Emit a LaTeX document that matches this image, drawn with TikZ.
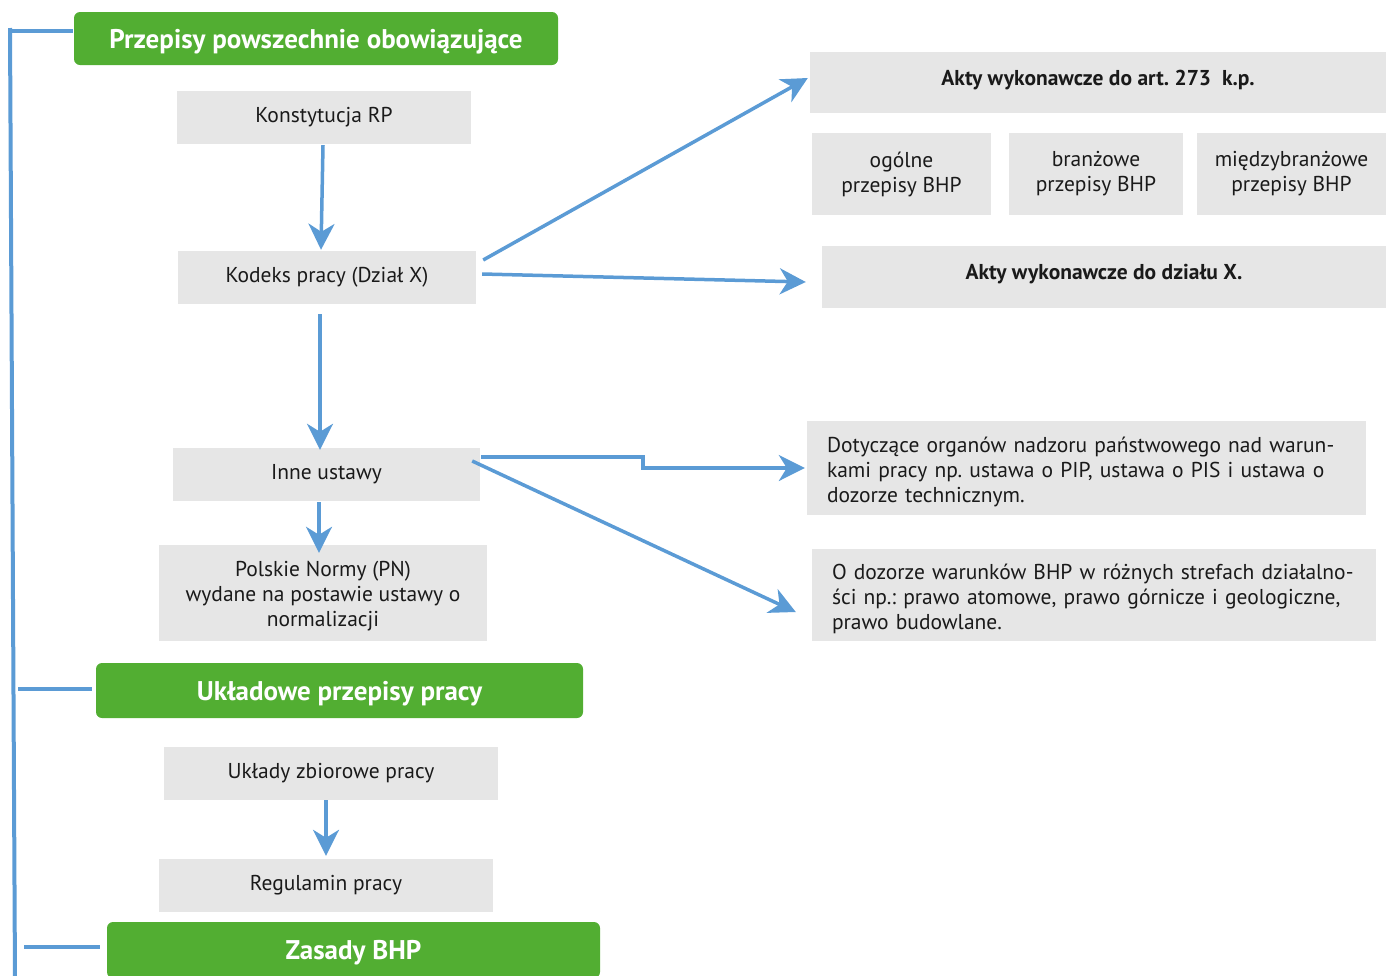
\documentclass[tikz,border=0pt]{standalone}
\usepackage{fontspec}
\setmainfont{PT Sans}
\usetikzlibrary{calc,arrows.meta}
\definecolor{lblue}{HTML}{5B9BD5}
\definecolor{bgreen}{HTML}{52AE32}
\definecolor{lgray}{HTML}{E6E6E6}
\definecolor{txt}{HTML}{1A1A1A}
\newcommand{\pushdown}[1]{\rule{0pt}{#1}}
\frenchspacing
\tikzset{
  gbox/.style={fill=lgray,draw=none,inner sep=0pt,text=txt,align=center,font=\fontsize{21.5}{25}\selectfont\frenchspacing},
  green/.style={fill=bgreen,draw=none,rounded corners=6pt,inner sep=0pt,text=white,text depth=0pt,font=\fontsize{27}{30}\selectfont\bfseries},
  arr/.style={draw=lblue,line width=3.5pt,-{Stealth[length=26pt,width=26pt,inset=8pt]}},
  brk/.style={draw=lblue,line width=4pt},
}
\begin{document}
\begin{tikzpicture}[x=1pt,y=-1pt]
\useasboundingbox (0,0) rectangle (1386,975);
\clip (0,0) rectangle (1386,975);
% green headers
\node[green,minimum width=484pt,minimum height=53pt] (g1) at (316,38.5) {Przepisy powszechnie obowiązujące};
\node[green,minimum width=487pt,minimum height=55pt] (g2) at (339.5,690.5) {Układowe przepisy pracy};
\node[green,minimum width=493pt,minimum height=56pt] (g3) at (353.5,950) {Zasady BHP};
% left column
\node[gbox,minimum width=294pt,minimum height=53pt] (konst) at (324,117.5) {Konstytucja RP};
\node[gbox,minimum width=298pt,minimum height=53pt] (kod) at (327,277.5) {Kodeks pracy (Dział X)};
\node[gbox,minimum width=307pt,minimum height=53pt] (inne) at (326.5,474.5) {Inne ustawy};
\node[gbox,minimum width=328pt,minimum height=96pt] (pn) at (323,593) {\pushdown{22pt}Polskie Normy (PN)\\wydane na postawie ustawy o\\normalizacji};
\node[gbox,minimum width=334pt,minimum height=53pt] (ukl) at (331,773.5) {Układy zbiorowe pracy};
\node[gbox,minimum width=334pt,minimum height=53pt] (reg) at (326,885.5) {Regulamin pracy};
% right column
\node[gbox,minimum width=576pt,minimum height=61pt,text depth=10pt,font=\fontsize{21.5}{25}\selectfont\bfseries\frenchspacing] (a273) at (1098,82.5) {Akty wykonawcze do art. 273\ \ k.p.};
\node[gbox,minimum width=179pt,minimum height=82pt] (og) at (901.5,174) {ogólne\\przepisy BHP};
\node[gbox,minimum width=174pt,minimum height=82pt] (br) at (1096,174) {branżowe\\przepisy BHP};
\node[gbox,minimum width=189pt,minimum height=82pt] (mb) at (1291.5,174) {międzybranżowe\\przepisy BHP};
\node[gbox,minimum width=564pt,minimum height=62pt,text depth=10pt,font=\fontsize{21.5}{25}\selectfont\bfseries\frenchspacing] (ax) at (1104,277) {Akty wykonawcze do działu X.};
\node[gbox,minimum width=559pt,minimum height=94pt,align=left,text width=519pt] (dot) at (1086.5,468) {\pushdown{24pt}Dotyczące organów nadzoru państwowego nad warun-\\kami pracy np. ustawa o PIP, ustawa o PIS i ustawa o\\dozorze technicznym.};
\node[gbox,minimum width=564pt,minimum height=92pt,align=left,text width=524pt] (odz) at (1094,595) {\pushdown{24pt}O dozorze warunków BHP w różnych strefach działalno-\\ści np.: prawo atomowe, prawo górnicze i geologiczne,\\prawo budowlane.};
% arrows
\draw[arr] ($(konst.south)+(-1,1)$) -- ($(kod.north)+(-6,-1)$);
\draw[arr] ($(kod.east)+(7,-17.5)$) -- ($(a273.west)+(-2,-4.5)$);
\draw[arr] ($(kod.east)+(6,-3.5)$) -- ($(ax.west)+(-16,5)$);
\draw[arr] ($(kod.south)+(-7,10)$) -- ($(inne.north)+(-6.5,2)$);
\draw[arr] ($(inne.south)+(-7.5,1)$) -- ($(pn.north)+(-4,8)$);
\draw[arr] ($(inne.east)+(1,-17.5)$) -- ++(162,0) -- ++(0,11) -- ($(dot.west)+(-2,0)$);
\draw[arr] ($(inne.east)+(-8,-13.5)$) -- ($(odz.west)+(-16,17)$);
\draw[arr] ($(ukl.south)+(-5,0)$) -- ($(reg.north)+(0,-3)$);
% bracket
\coordinate (btop) at (10,28);
\coordinate (bbot) at (15,980);
\draw[brk] (btop) -- (bbot);
\draw[brk] ($(g1.west)+(-1,-7.5)$) -- (btop |- {$(g1.west)+(-1,-7.5)$});
\draw[brk] ($(g2.west)+(-4,-1.5)$) -- ++(-74,0);
\draw[brk] ($(g3.west)+(-7,-3)$) -- ++(-76,0);
\end{tikzpicture}
\end{document}
